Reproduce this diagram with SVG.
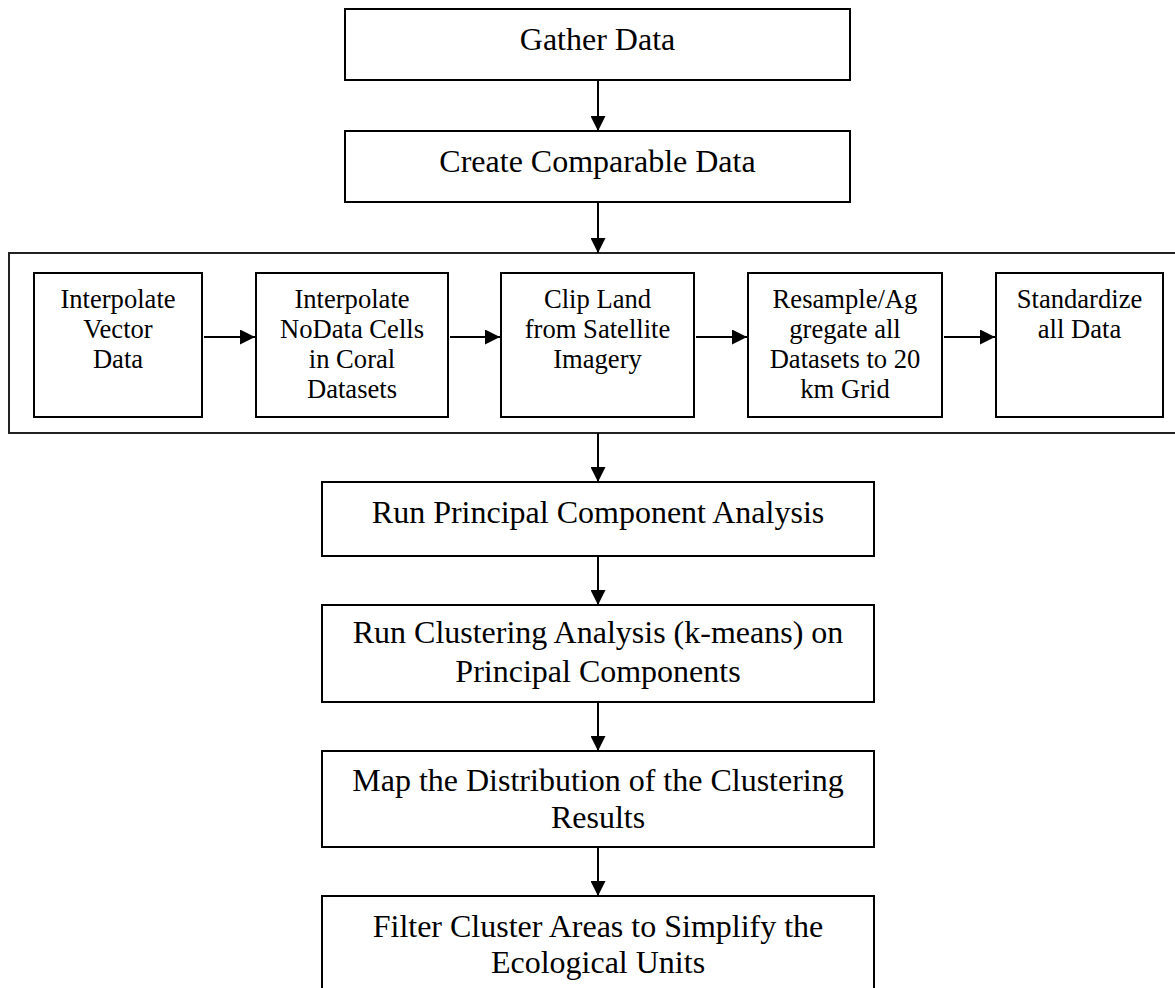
<svg xmlns="http://www.w3.org/2000/svg" width="1175" height="988" viewBox="0 0 1175 988">
<style>
.box{fill:#fff;stroke:#000;stroke-width:2}
.outer{fill:#fff;stroke:#222;stroke-width:2}
.t{font-family:"Liberation Serif","Times New Roman",serif;font-size:32px;fill:#000;text-anchor:middle}
.s{font-family:"Liberation Serif","Times New Roman",serif;font-size:26.6px;fill:#000;text-anchor:middle}
.c{stroke:#000;stroke-width:2;fill:none;marker-end:url(#ah)}
</style>
<defs>
<marker id="ah" markerWidth="15" markerHeight="15" refX="15" refY="7.5" orient="auto" markerUnits="userSpaceOnUse">
<path d="M0,0 L15,7.5 L0,15 Z" fill="#000"/>
</marker>
</defs>
<rect width="1175" height="988" fill="#fff"/>
<g id="gather"><rect class="box" x="345" y="9" width="505" height="71"/><text class="t" x="597.5" y="50">Gather Data</text></g>
<g id="create"><rect class="box" x="345" y="131" width="505" height="71"/><text class="t" x="597.5" y="172">Create Comparable Data</text></g>
<g id="prep-group"><rect class="outer" x="9" y="253" width="1175" height="180"/></g>
<g id="interp-vector"><rect class="box" x="34" y="273" width="168" height="144"/>
<text class="s" x="118" y="308">Interpolate</text><text class="s" x="118" y="338">Vector</text><text class="s" x="118" y="368">Data</text></g>
<g id="interp-nodata"><rect class="box" x="256" y="273" width="192" height="144"/>
<text class="s" x="352" y="308">Interpolate</text><text class="s" x="352" y="338">NoData Cells</text><text class="s" x="352" y="368">in Coral</text><text class="s" x="352" y="398">Datasets</text></g>
<g id="clip-land"><rect class="box" x="501" y="273" width="193" height="144"/>
<text class="s" x="597.5" y="308">Clip Land</text><text class="s" x="597.5" y="338">from Satellite</text><text class="s" x="597.5" y="368">Imagery</text></g>
<g id="resample"><rect class="box" x="748" y="273" width="194" height="144"/>
<text class="s" x="845" y="308">Resample/Ag</text><text class="s" x="845" y="338">gregate all</text><text class="s" x="845" y="368">Datasets to 20</text><text class="s" x="845" y="398">km Grid</text></g>
<g id="standardize"><rect class="box" x="996" y="273" width="167" height="144"/>
<text class="s" x="1079.5" y="308">Standardize</text><text class="s" x="1079.5" y="338">all Data</text></g>
<g id="pca"><rect class="box" x="322" y="482" width="552" height="74"/><text class="t" x="598" y="523">Run Principal Component Analysis</text></g>
<g id="cluster"><rect class="box" x="322" y="605" width="552" height="97"/><text class="t" x="598" y="643">Run Clustering Analysis (k-means) on</text><text class="t" x="598" y="682">Principal Components</text></g>
<g id="map"><rect class="box" x="322" y="751" width="552" height="96"/><text class="t" x="598" y="791">Map the Distribution of the Clustering</text><text class="t" x="598" y="828">Results</text></g>
<g id="filter"><rect class="box" x="322" y="896" width="552" height="110"/><text class="t" x="598" y="937">Filter Cluster Areas to Simplify the</text><text class="t" x="598" y="973">Ecological Units</text></g>
<g id="connectors">
<line class="c" x1="598" y1="80" x2="598" y2="131"/>
<line class="c" x1="598" y1="202" x2="598" y2="253"/>
<line class="c" x1="204" y1="337" x2="255" y2="337"/>
<line class="c" x1="450" y1="337" x2="500" y2="337"/>
<line class="c" x1="696" y1="337" x2="747" y2="337"/>
<line class="c" x1="944" y1="337" x2="995" y2="337"/>
<line class="c" x1="598" y1="433" x2="598" y2="482"/>
<line class="c" x1="598" y1="556" x2="598" y2="605"/>
<line class="c" x1="598" y1="702" x2="598" y2="751"/>
<line class="c" x1="598" y1="847" x2="598" y2="896"/>
</g>
</svg>
